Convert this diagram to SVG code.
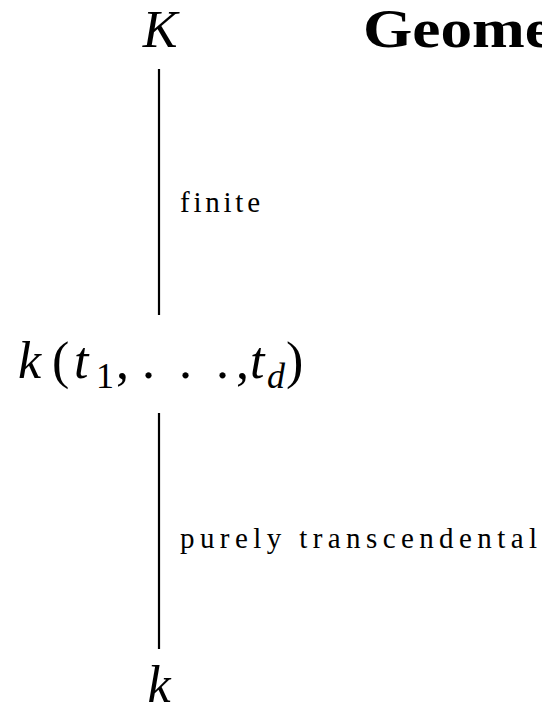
<svg xmlns="http://www.w3.org/2000/svg" width="542" height="713" viewBox="0 0 542 713">
<style>
.m{font-family:"Liberation Serif","DejaVu Serif",serif;font-style:italic;font-size:52px;fill:#000}
.r{font-family:"Liberation Serif","DejaVu Serif",serif;font-size:52px;fill:#000}
.s{font-size:36px}
.lbl{font-family:"Liberation Serif","DejaVu Serif",serif;font-size:29px;fill:#000}
.ttl{font-family:"Liberation Serif","DejaVu Serif",serif;font-weight:bold;font-size:54px;fill:#000}
.e{stroke:#000;stroke-width:2.2;fill:none}
</style>
<rect width="542" height="713" fill="#fff"/>
<g id="title"><text class="ttl" x="363" y="47" textLength="190" lengthAdjust="spacingAndGlyphs">Geome</text></g>
<g id="K"><text class="m" x="160" y="47" text-anchor="middle" font-size="56">K</text></g>
<g id="ktd">
<text class="m" x="18" y="378">k</text>
<text class="r" x="52" y="378">(</text>
<text class="m" x="74" y="378">t</text>
<text class="r s" x="96" y="388">1</text>
<text class="r" x="116" y="378">,</text>
<text class="r" x="142" y="378">.</text>
<text class="r" x="179" y="378">.</text>
<text class="r" x="216" y="378">.</text>
<text class="r" x="236" y="378">,</text>
<text class="m" x="250" y="378">t</text>
<text class="m s" x="267" y="388">d</text>
<text class="r" x="286" y="378">)</text>
</g>
<g id="k"><text class="m" x="159" y="702" text-anchor="middle">k</text></g>
<g id="connectors">
<line class="e" x1="159" y1="69" x2="159" y2="315"/>
<line class="e" x1="159" y1="413" x2="159" y2="649"/>
<text class="lbl" x="180" y="212" textLength="80" lengthAdjust="spacing">finite</text>
<text class="lbl" x="180" y="548" textLength="357" lengthAdjust="spacing">purely transcendental</text>
</g>
</svg>
